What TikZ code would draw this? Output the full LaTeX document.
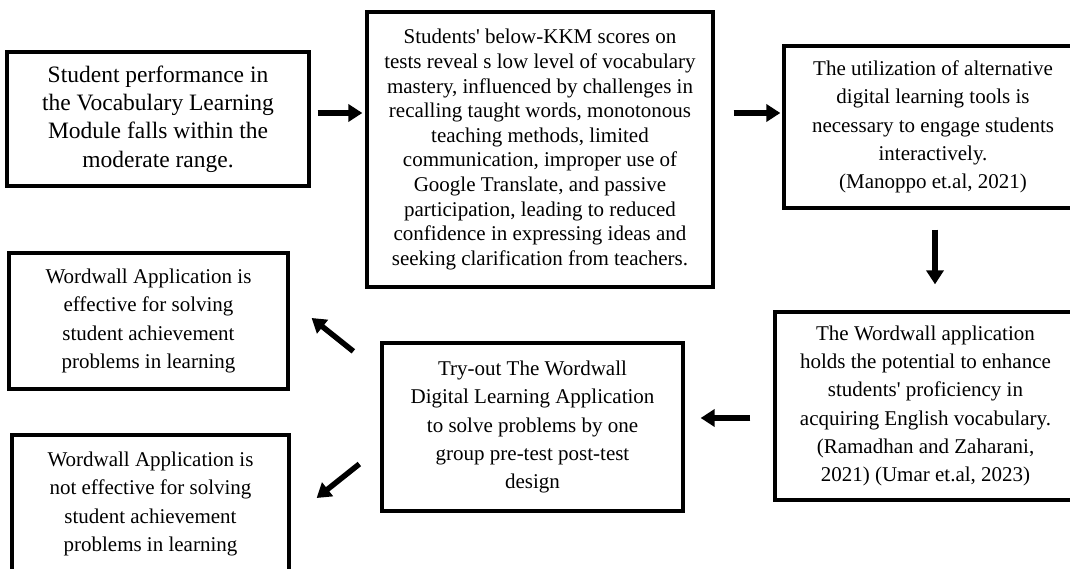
\documentclass[tikz,border=0pt]{standalone}
\usepackage{fontspec}
\setmainfont{Liberation Serif}[Ligatures=TeXOff]
\usetikzlibrary{arrows.meta}
\tikzset{
  box/.style={draw=black, line width=3.3pt, inner sep=0pt, align=center},
  txtbig/.style={font=\fontsize{23.5}{28.3}\selectfont},
  txt/.style={font=\fontsize{21}{28.3}\selectfont},
  txtdense/.style={font=\fontsize{21}{24.6}\selectfont},
  arr/.style={line width=5.5pt, -{Triangle[length=14pt,width=17pt]}}
}
\begin{document}
\begin{tikzpicture}[x=1pt,y=-1pt]
\useasboundingbox (0,0) rectangle (1070,569);
\clip (0,0) rectangle (1070,569);
\fill[white] (0,0) rectangle (1070,569);

\node[box, txtbig, minimum width=302pt, minimum height=134pt] (A) at (158,119)
 {Student performance in\\the Vocabulary Learning\\Module falls within the\\moderate range.};

\node[box, minimum width=346pt, minimum height=275pt] (B) at (540,149.5) {};
\node[txtdense, align=center, inner sep=0pt] (Bt) at (540,149.5)
 {Students' below-KKM scores on\\tests reveal s low level of vocabulary\\mastery, influenced by challenges in\\recalling taught words, monotonous\\teaching methods, limited\\communication, improper use of\\Google Translate, and passive\\participation, leading to reduced\\confidence in expressing ideas and\\seeking clarification from teachers.};

\node[box, txt, minimum width=298pt, minimum height=162pt] (C) at (933,127)
 {The utilization of alternative\\digital learning tools is\\necessary to engage students\\interactively.\\(Manoppo et.al, 2021)};

\node[box, txt, minimum width=301pt, minimum height=188pt] (D) at (925.5,406)
 {The Wordwall application\\holds the potential to enhance\\students' proficiency in\\acquiring English vocabulary.\\(Ramadhan and Zaharani,\\2021) (Umar et.al, 2023)};

\node[box, txt, minimum width=301pt, minimum height=168pt] (E) at (532.5,427)
 {Try-out The Wordwall\\Digital Learning Application\\to solve problems by one\\group pre-test post-test\\design};

\node[box, txt, minimum width=279pt, minimum height=136pt] (F) at (148.5,321)
 {Wordwall Application is\\effective for solving\\student achievement\\problems in learning};

\node[box, txt, minimum width=277pt, minimum height=138pt] (G) at (150.5,504)
 {Wordwall Application is\\not effective for solving\\student achievement\\problems in learning};

\draw[arr] ([xshift=7pt,yshift=6pt]A.east) -- ([xshift=-3pt,yshift=36.5pt]B.west);
\draw[arr] ([xshift=19pt,yshift=36.5pt]B.east) -- ([xshift=-2pt,yshift=14pt]C.west);
\draw[arr] ([xshift=2pt,yshift=-20pt]C.south) -- ([xshift=9.5pt,yshift=26pt]D.north);
\draw[arr] ([xshift=-23pt,yshift=-12pt]D.west) -- ([xshift=16pt,yshift=9pt]E.east);
\draw[arr] ([xshift=-27pt,yshift=-10pt]E.north west) -- ([xshift=22pt,yshift=3pt]F.east);
\draw[arr] ([xshift=-21pt,yshift=-37pt]E.west) -- ([xshift=26pt,yshift=6pt]G.east);
\end{tikzpicture}
\end{document}
